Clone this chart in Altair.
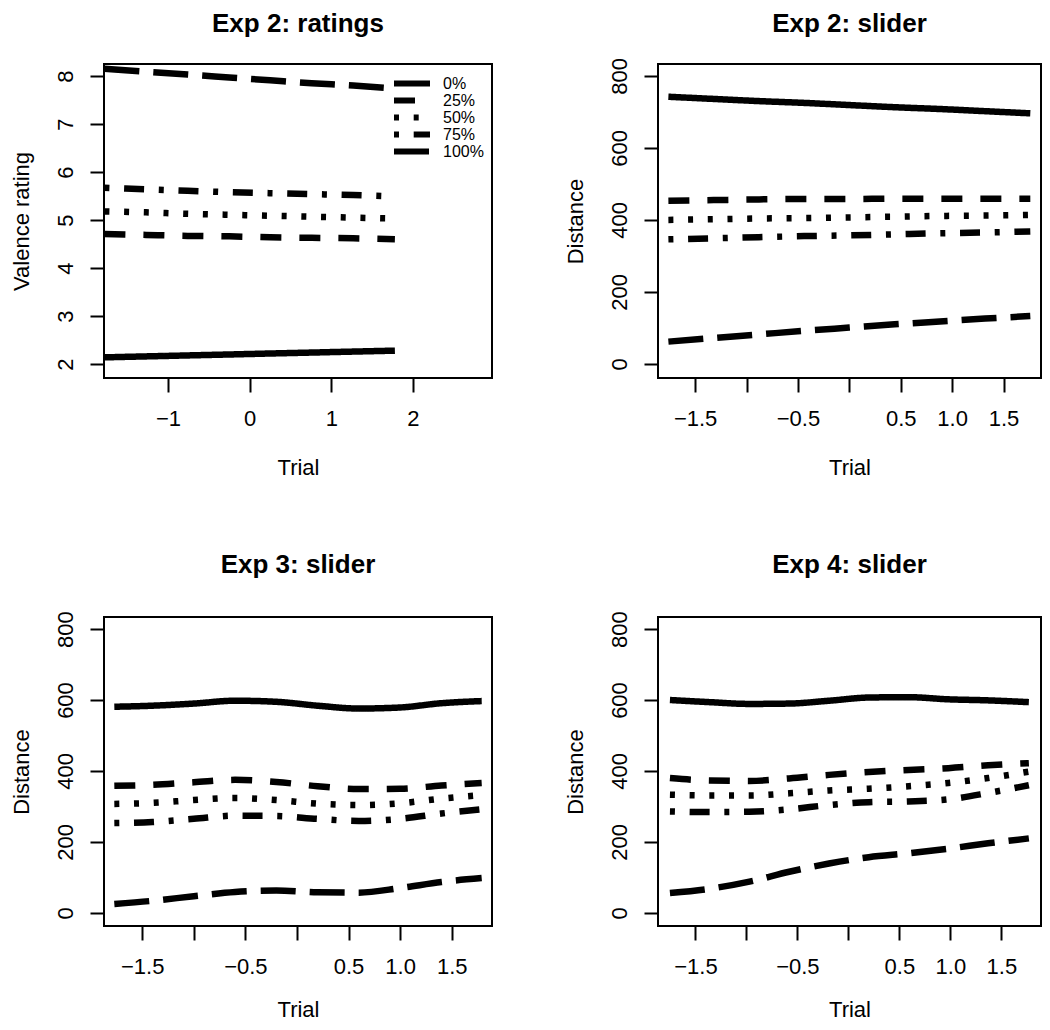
import altair as alt
import pandas as pd

FONT = "Liberation Sans"
groups = ["0%", "25%", "50%", "75%", "100%"]
dash_patterns = [[1, 0], [21, 18], [5, 14.7], [5, 14.7, 20, 14.7], [35, 14]]

# ---- Exp 2: ratings ----
p1_x = [-1.78, -1.27, -0.76, -0.25, 0.25, 0.76, 1.27, 1.78]
p1_0 = [2.14, 2.16, 2.18, 2.20, 2.22, 2.24, 2.26, 2.28]
p1_25 = [4.71, 4.69, 4.67, 4.66, 4.64, 4.63, 4.62, 4.60]
p1_50 = [5.18, 5.16, 5.13, 5.11, 5.09, 5.07, 5.05, 5.03]
p1_75 = [5.67, 5.64, 5.61, 5.58, 5.56, 5.54, 5.52, 5.49]
p1_100 = [8.15, 8.09, 8.03, 7.97, 7.91, 7.85, 7.80, 7.74]

# ---- Exp 2: slider ----
p2_x = [-1.76, -1.32, -0.88, -0.44, 0.0, 0.44, 0.88, 1.32, 1.76]
p2_0 = [742, 736, 730, 725, 719, 713, 708, 702, 696]
p2_25 = [453, 455, 457, 458, 458, 459, 459, 459, 459]
p2_50 = [400, 402, 404, 405, 407, 409, 411, 412, 414]
p2_75 = [346, 349, 352, 355, 357, 360, 363, 365, 368]
p2_100 = [62, 72, 82, 92, 101, 110, 118, 126, 133]

# ---- Exp 3: slider ----
p3_x = [-1.77, -1.4, -1.0, -0.6, -0.2, 0.2, 0.6, 1.0, 1.4, 1.79]
p3_0 = [581, 584, 590, 598, 595, 584, 576, 579, 591, 597]
p3_25 = [358, 361, 368, 375, 369, 357, 349, 350, 359, 366]
p3_50 = [307, 310, 318, 324, 318, 308, 304, 309, 322, 332]
p3_75 = [253, 256, 265, 274, 273, 265, 259, 265, 280, 292]
p3_100 = [25, 34, 47, 59, 63, 58, 57, 70, 87, 98]

# ---- Exp 4: slider ----
p4_x = [-1.75, -1.36, -0.97, -0.58, -0.19, 0.2, 0.59, 0.98, 1.37, 1.77]
p4_0 = [600, 594, 589, 590, 598, 607, 608, 602, 599, 594]
p4_25 = [380, 373, 372, 379, 389, 397, 403, 408, 416, 422]
p4_50 = [333, 331, 331, 337, 345, 350, 357, 366, 380, 398]
p4_75 = [286, 284, 285, 292, 304, 312, 314, 320, 338, 360]
p4_100 = [56, 68, 88, 116, 139, 157, 168, 181, 196, 210]

ticks_wide = [-1, 0, 1, 2]
ticks_narrow = [-1.5, -1.0, -0.5, 0.0, 0.5, 1.0, 1.5]
yticks_rating = [2, 3, 4, 5, 6, 7, 8]
yticks_dist = [0, 200, 400, 600, 800]


def frame(x, series):
    rows = []
    for g, ys in zip(groups, series):
        for xv, yv in zip(x, ys):
            rows.append({"x": xv, "y": yv, "grp": g})
    return pd.DataFrame(rows)


def panel(title, x, series, xdom, ydom, xvals, yvals, ytitle, width, height,
          xtitle_pad, title_y, xlabel_expr, legend=None):
    df = frame(x, series)
    xaxis = alt.Axis(
        title="Trial", values=xvals, labelExpr=xlabel_expr, grid=False,
        domain=False, tickSize=14, tickWidth=2, tickColor="black",
        labelFont=FONT, labelFontSize=22, labelColor="black",
        labelPadding=16, labelBaseline="top", labelOverlap=False,
        labelFlush=False, titleFont=FONT, titleFontSize=22,
        titleFontWeight="normal", titleColor="black",
        titlePadding=xtitle_pad, titleBaseline="top",
        minExtent=50, maxExtent=50)
    yaxis = alt.Axis(
        title=ytitle, values=yvals, format="d", grid=False, domain=False,
        tickSize=14, tickWidth=2, tickColor="black",
        labelFont=FONT, labelFontSize=22, labelColor="black",
        labelAngle=270, labelAlign="center", labelBaseline="alphabetic",
        labelPadding=18, labelOverlap=False, labelFlush=False,
        titleFont=FONT, titleFontSize=22, titleFontWeight="normal",
        titleColor="black", titleAngle=270, titleAlign="center",
        titleBaseline="alphabetic", titlePadding=26,
        minExtent=50, maxExtent=50)
    dash = alt.StrokeDash(
        "grp:N", scale=alt.Scale(domain=groups, range=dash_patterns),
        legend=legend, sort=groups)
    lines = alt.Chart(df).mark_line(
        clip=True, color="black", strokeWidth=6.5, strokeCap="butt",
        interpolate="monotone"
    ).encode(
        x=alt.X("x:Q", scale=alt.Scale(domain=xdom, nice=False, zero=False), axis=xaxis),
        y=alt.Y("y:Q", scale=alt.Scale(domain=ydom, nice=False, zero=False), axis=yaxis),
        strokeDash=dash,
    )
    ttl = alt.Chart(pd.DataFrame({"t": [title]})).mark_text(
        align="center", baseline="alphabetic", font=FONT, fontSize=26,
        fontWeight="bold", color="black"
    ).encode(text="t:N", x=alt.value(width / 2), y=alt.value(title_y))
    return alt.layer(lines, ttl).properties(width=width, height=height)


legend1 = alt.Legend(
    title=None, orient="none", legendX=287, legendY=11, symbolType="stroke",
    symbolSize=1296, symbolStrokeWidth=6, symbolStrokeColor="black",
    labelFont=FONT, labelFontSize=16, labelColor="black", labelOffset=10,
    rowPadding=0, clipHeight=17, padding=0, offset=0)

narrow_expr = "(datum.value == -1 || datum.value == 0) ? '' : format(datum.value, '.1f')"
wide_expr = "format(datum.value, 'd')"

c1 = panel("Exp 2: ratings", p1_x, [p1_0, p1_25, p1_50, p1_75, p1_100],
           [-1.785, 2.97], [1.71, 8.25], ticks_wide, yticks_rating,
           "Valence rating", 388, 314, 29, -32, wide_expr, legend1)
c2 = panel("Exp 2: slider", p2_x, [p2_0, p2_25, p2_50, p2_75, p2_100],
           [-1.861, 1.864], [-39, 833], ticks_narrow, yticks_dist,
           "Distance", 383, 314, 29, -32, narrow_expr)
c3 = panel("Exp 3: slider", p3_x, [p3_0, p3_25, p3_50, p3_75, p3_100],
           [-1.87, 1.89], [-37, 834], ticks_narrow, yticks_dist,
           "Distance", 388, 309, 23, -44, narrow_expr)
c4 = panel("Exp 4: slider", p4_x, [p4_0, p4_25, p4_50, p4_75, p4_100],
           [-1.867, 1.889], [-37, 834], ticks_narrow, yticks_dist,
           "Distance", 383, 309, 23, -44, narrow_expr)

chart = alt.concat(
    c1, c2, c3, c4, columns=2, spacing={"row": 239, "column": 166},
    bounds="flush", align="all"
).resolve_scale(
    x="independent", y="independent", strokeDash="independent"
).resolve_legend(
    strokeDash="independent"
).properties(
    autosize=alt.AutoSizeParams(type="none"),
    padding={"left": 96, "top": 56, "right": 938, "bottom": 958},
    background="white",
).configure_view(stroke="black", strokeWidth=2)

chart.save("out.html", embed_options={"renderer": "svg", "actions": False})
